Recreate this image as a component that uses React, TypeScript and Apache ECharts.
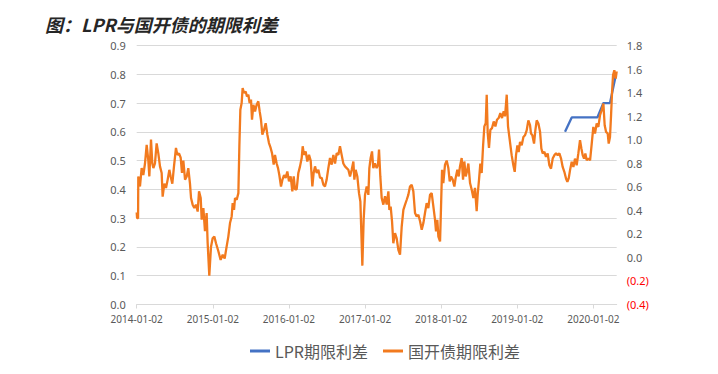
import { useEffect, useRef } from 'react';
import * as echarts from 'echarts';

const chartTitle = '图：LPR与国开债的期限利差';
const seriesNames = ['LPR期限利差', '国开债期限利差'];
const tickYears = [2014, 2015, 2016, 2017, 2018, 2019, 2020];

const lprSpread: [number, number][] = [
  [2019.628, 0.6], [2019.716, 0.65], [2019.8, 0.65], [2019.885, 0.65], [2019.97, 0.65],
  [2020.053, 0.65], [2020.132, 0.7], [2020.219, 0.7], [2020.298, 0.8],
];

const cdb2014: [number, number][] = [
  [2014.0, 0.32], [2014.005, 0.3], [2014.018, 0.3], [2014.021, 0.445], [2014.043, 0.41], [2014.065, 0.474],
  [2014.087, 0.45], [2014.109, 0.49], [2014.131, 0.555], [2014.153, 0.5], [2014.166, 0.445], [2014.188, 0.573],
  [2014.205, 0.49], [2014.219, 0.474], [2014.24, 0.49], [2014.262, 0.56], [2014.284, 0.525], [2014.306, 0.48],
  [2014.328, 0.457], [2014.341, 0.375], [2014.363, 0.42], [2014.385, 0.405], [2014.407, 0.434], [2014.429, 0.468],
  [2014.446, 0.445], [2014.468, 0.42], [2014.49, 0.48], [2014.516, 0.544], [2014.534, 0.52], [2014.556, 0.525],
  [2014.578, 0.51], [2014.595, 0.457], [2014.613, 0.5], [2014.635, 0.434], [2014.657, 0.445], [2014.678, 0.474],
  [2014.7, 0.42], [2014.714, 0.37], [2014.735, 0.347], [2014.757, 0.335], [2014.779, 0.347], [2014.801, 0.323],
  [2014.819, 0.393], [2014.841, 0.37], [2014.854, 0.295], [2014.876, 0.335], [2014.897, 0.255], [2014.919, 0.318],
  [2014.932, 0.215], [2014.954, 0.1], [2014.976, 0.2], [2014.998, 0.23],
];
const cdb2015: [number, number][] = [
  [2015.02, 0.236], [2015.042, 0.213], [2015.073, 0.185], [2015.103, 0.155], [2015.13, 0.173], [2015.156, 0.16],
  [2015.182, 0.202], [2015.204, 0.236], [2015.226, 0.283], [2015.248, 0.306], [2015.261, 0.352], [2015.279, 0.329],
  [2015.292, 0.37], [2015.314, 0.364], [2015.336, 0.387], [2015.349, 0.55], [2015.362, 0.677], [2015.379, 0.7],
  [2015.392, 0.752], [2015.41, 0.735], [2015.432, 0.74], [2015.449, 0.723], [2015.467, 0.729], [2015.484, 0.7],
  [2015.502, 0.712], [2015.515, 0.642], [2015.533, 0.694], [2015.555, 0.671], [2015.576, 0.694], [2015.598, 0.706],
  [2015.616, 0.671], [2015.633, 0.642], [2015.651, 0.59], [2015.673, 0.607], [2015.695, 0.63], [2015.717, 0.59],
  [2015.738, 0.561], [2015.76, 0.544], [2015.778, 0.526], [2015.8, 0.486], [2015.817, 0.52], [2015.839, 0.49],
  [2015.857, 0.474], [2015.874, 0.45], [2015.896, 0.41], [2015.914, 0.433], [2015.936, 0.45], [2015.957, 0.44],
  [2015.979, 0.462],
];
const cdb2016: [number, number][] = [
  [2016.001, 0.428], [2016.023, 0.445], [2016.045, 0.393], [2016.063, 0.445], [2016.08, 0.4], [2016.102, 0.4],
  [2016.124, 0.457], [2016.146, 0.48], [2016.168, 0.509], [2016.181, 0.55], [2016.198, 0.52], [2016.22, 0.532],
  [2016.242, 0.497], [2016.264, 0.52], [2016.286, 0.5], [2016.308, 0.41], [2016.325, 0.457], [2016.343, 0.48],
  [2016.365, 0.457], [2016.387, 0.468], [2016.409, 0.44], [2016.431, 0.44], [2016.453, 0.416], [2016.474, 0.41],
  [2016.496, 0.434], [2016.518, 0.474], [2016.54, 0.509], [2016.562, 0.486], [2016.584, 0.52], [2016.606, 0.49],
  [2016.628, 0.526], [2016.65, 0.52], [2016.671, 0.55], [2016.693, 0.52], [2016.715, 0.49], [2016.737, 0.48],
  [2016.759, 0.474], [2016.781, 0.468], [2016.803, 0.445], [2016.825, 0.468], [2016.847, 0.497], [2016.86, 0.434],
  [2016.877, 0.468], [2016.899, 0.445], [2016.921, 0.387], [2016.939, 0.358], [2016.952, 0.248], [2016.965, 0.135],
  [2016.982, 0.294],
];
const cdb2017: [number, number][] = [
  [2017.0, 0.381], [2017.022, 0.41], [2017.044, 0.381], [2017.057, 0.474], [2017.074, 0.509], [2017.092, 0.532],
  [2017.109, 0.474], [2017.131, 0.49], [2017.153, 0.474], [2017.171, 0.486], [2017.184, 0.538], [2017.201, 0.445],
  [2017.219, 0.37], [2017.241, 0.347], [2017.263, 0.376], [2017.285, 0.347], [2017.307, 0.393], [2017.32, 0.329],
  [2017.337, 0.34], [2017.355, 0.289], [2017.372, 0.213], [2017.394, 0.248], [2017.416, 0.23], [2017.438, 0.19],
  [2017.46, 0.173], [2017.482, 0.271], [2017.504, 0.329], [2017.526, 0.347], [2017.548, 0.364], [2017.569, 0.381],
  [2017.591, 0.41], [2017.613, 0.416], [2017.635, 0.393], [2017.657, 0.318], [2017.679, 0.306], [2017.701, 0.312],
  [2017.723, 0.289], [2017.745, 0.26], [2017.767, 0.283], [2017.788, 0.318], [2017.81, 0.352], [2017.832, 0.335],
  [2017.854, 0.381], [2017.876, 0.387], [2017.898, 0.341], [2017.92, 0.294], [2017.933, 0.254], [2017.95, 0.294],
  [2017.964, 0.236], [2017.986, 0.219], [2017.999, 0.341],
];
const cdb2018: [number, number][] = [
  [2018.012, 0.468], [2018.029, 0.422], [2018.051, 0.486], [2018.073, 0.5], [2018.095, 0.474], [2018.113, 0.428],
  [2018.13, 0.445], [2018.152, 0.434], [2018.174, 0.41], [2018.191, 0.44], [2018.213, 0.468], [2018.231, 0.445],
  [2018.248, 0.48], [2018.27, 0.509], [2018.288, 0.434], [2018.305, 0.497], [2018.323, 0.445], [2018.34, 0.462],
  [2018.358, 0.49], [2018.38, 0.422], [2018.402, 0.399], [2018.424, 0.37], [2018.445, 0.405], [2018.467, 0.324],
  [2018.48, 0.381], [2018.498, 0.434], [2018.515, 0.49], [2018.533, 0.457], [2018.551, 0.55], [2018.568, 0.619],
  [2018.586, 0.63], [2018.599, 0.729], [2018.612, 0.596], [2018.629, 0.544], [2018.647, 0.607], [2018.669, 0.613],
  [2018.691, 0.636], [2018.713, 0.619], [2018.734, 0.642], [2018.756, 0.648], [2018.778, 0.665], [2018.8, 0.648],
  [2018.822, 0.671], [2018.84, 0.654], [2018.862, 0.729], [2018.879, 0.619], [2018.901, 0.573], [2018.927, 0.519],
  [2018.949, 0.484], [2018.967, 0.461], [2018.984, 0.519],
];
const cdb2019: [number, number][] = [
  [2019.002, 0.553], [2019.019, 0.53], [2019.037, 0.565], [2019.059, 0.553], [2019.081, 0.582], [2019.102, 0.588],
  [2019.124, 0.605], [2019.146, 0.64], [2019.168, 0.623], [2019.181, 0.594], [2019.199, 0.588], [2019.221, 0.559],
  [2019.238, 0.605], [2019.256, 0.64], [2019.278, 0.629], [2019.3, 0.6], [2019.317, 0.542], [2019.335, 0.525],
  [2019.357, 0.53], [2019.378, 0.513], [2019.4, 0.525], [2019.422, 0.484], [2019.444, 0.472], [2019.466, 0.507],
  [2019.488, 0.519], [2019.51, 0.525], [2019.532, 0.519], [2019.554, 0.525], [2019.576, 0.507], [2019.597, 0.478],
  [2019.619, 0.461], [2019.641, 0.438], [2019.659, 0.426], [2019.676, 0.438], [2019.694, 0.467], [2019.716, 0.496],
  [2019.738, 0.478], [2019.759, 0.507], [2019.781, 0.484], [2019.803, 0.525], [2019.825, 0.571], [2019.843, 0.542],
  [2019.86, 0.519], [2019.878, 0.507], [2019.895, 0.525], [2019.913, 0.501], [2019.935, 0.507], [2019.957, 0.501],
  [2019.979, 0.559],
];
const cdb2020: [number, number][] = [
  [2020.0, 0.617], [2020.022, 0.594], [2020.044, 0.629], [2020.066, 0.617], [2020.088, 0.658], [2020.11, 0.675],
  [2020.132, 0.698], [2020.149, 0.623], [2020.167, 0.6], [2020.189, 0.594], [2020.202, 0.559], [2020.219, 0.582],
  [2020.233, 0.658], [2020.246, 0.739], [2020.259, 0.797], [2020.276, 0.814], [2020.294, 0.785], [2020.307, 0.81],
];

const cdbSpread = [...cdb2014, ...cdb2015, ...cdb2016, ...cdb2017, ...cdb2018, ...cdb2019, ...cdb2020];

const GRAY = '#595959';
const GRID = '#d9d9d9';
const LATIN = 'Noto Sans, sans-serif';
const CJK = 'Noto Sans CJK SC, sans-serif';

export default function App() {
  const ref = useRef<HTMLDivElement>(null);
  useEffect(() => {
    if (!ref.current) return;
    const chart = echarts.init(ref.current, undefined, { renderer: 'svg' });
    chart.setOption({
      animation: false,
      backgroundColor: '#ffffff',
      title: {
        text: chartTitle,
        left: 40,
        top: 10,
        textStyle: { fontSize: 18, fontWeight: 'bold', fontStyle: 'italic', color: '#262626', fontFamily: CJK },
      },
      legend: {
        data: seriesNames,
        left: 245,
        top: 338,
        icon: 'rect',
        itemWidth: 20,
        itemHeight: 3,
        itemGap: 15,
        textStyle: { fontSize: 16, color: GRAY, fontFamily: CJK },
      },
      grid: { left: 136.7, right: 101.3, top: 45.5, bottom: 69.5, containLabel: false, outerBoundsMode: 'none' },
      xAxis: {
        type: 'value',
        min: 2014,
        max: 2020.307,
        interval: 1,
        axisLine: { show: true, lineStyle: { color: GRID } },
        axisTick: { show: true, length: 4, lineStyle: { color: GRID }, customValues: tickYears },
        axisLabel: {
          customValues: tickYears,
          formatter: (v: number) => `${Math.round(v)}-01-02`,
          color: GRAY,
          fontSize: 10,
          margin: 9,
          fontFamily: LATIN,
        },
        splitLine: { show: false },
      },
      yAxis: [
        {
          type: 'value',
          position: 'left',
          min: 0,
          max: 0.9,
          interval: 0.1,
          axisLine: { show: false },
          axisTick: { show: false },
          axisLabel: { formatter: (v: number) => v.toFixed(1), color: GRAY, fontSize: 11, margin: 11, fontFamily: LATIN },
          splitLine: { show: true, lineStyle: { color: GRID, width: 1 } },
        },
        {
          type: 'value',
          position: 'right',
          min: -0.4,
          max: 1.8,
          interval: 0.2,
          axisLine: { show: false },
          axisTick: { show: false },
          splitLine: { show: false },
          axisLabel: {
            formatter: (v: number) => {
              const r = Math.round(v * 10) / 10;
              return r < 0 ? `(${Math.abs(r).toFixed(1)})` : r.toFixed(1);
            },
            color: (v: any) => (parseFloat(v) < -0.01 ? '#FF0000' : GRAY),
            fontSize: 11,
            margin: 10,
            fontFamily: LATIN,
          },
        },
      ],
      series: [
        {
          name: seriesNames[0],
          type: 'line',
          yAxisIndex: 0,
          data: lprSpread,
          symbol: 'none',
          silent: true,
          lineStyle: { width: 2.3, color: '#4472C4' },
          itemStyle: { color: '#4472C4' },
        },
        {
          name: seriesNames[1],
          type: 'line',
          yAxisIndex: 0,
          data: cdbSpread,
          symbol: 'none',
          silent: true,
          lineStyle: { width: 2.3, color: '#F27A1E' },
          itemStyle: { color: '#F27A1E' },
        },
      ],
    });
    return () => chart.dispose();
  }, []);
  return (
    <div
      ref={ref}
      style={{ position: 'fixed', left: 0, top: 0, width: 718, height: 374, background: '#fff' }}
    />
  );
}
